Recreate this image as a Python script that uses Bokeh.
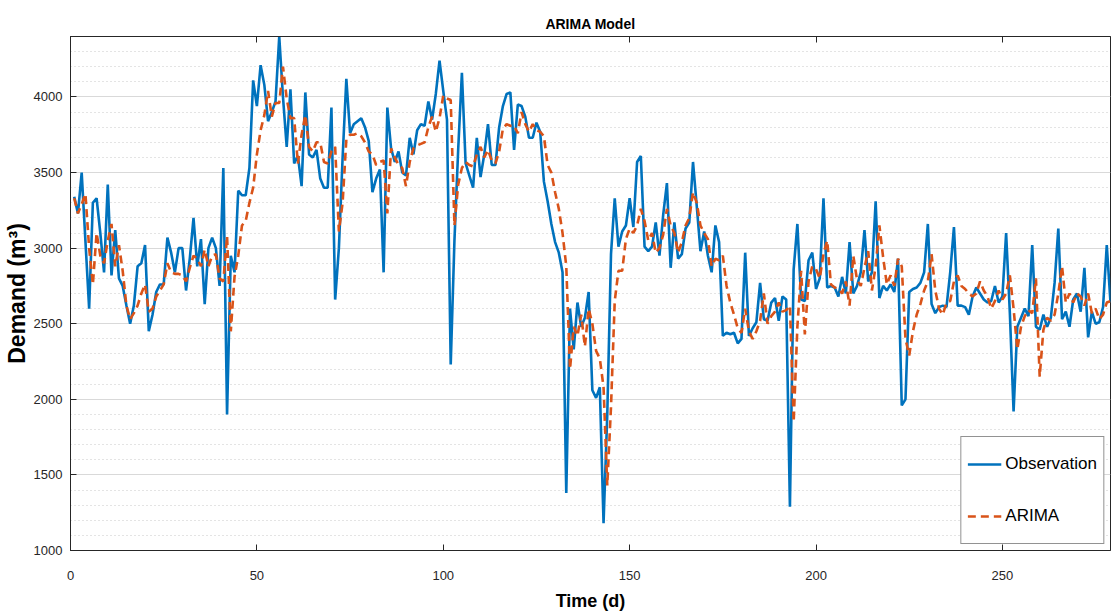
from bokeh.plotting import figure
from bokeh.models import Range1d, LinearAxis, SingleIntervalTicker, Legend, LegendItem, ColumnDataSource
from bokeh.embed import file_html
from bokeh.resources import INLINE

FONT = "Liberation Sans"

days = list(range(1, 280))

observation = [
    3340, 3230, 3500, 3050, 2600, 3300, 3330, 3100, 2840, 3420,
    2820, 3120, 2800, 2750, 2620, 2500, 2620, 2880, 2900, 3020,
    2450, 2560, 2710, 2760, 2760, 3070, 2970, 2840, 3000, 3000,
    2720, 2930, 3200, 2880, 3060, 2630, 3000, 3070, 3000, 2750,
    3530, 1900, 2950, 2840, 3380, 3350, 3350, 3530, 4110, 3940,
    4210, 4080, 3840, 3900, 3970, 4400, 4000, 3670, 4050, 3560,
    3610, 3410, 4030, 3620, 3600, 3650, 3460, 3400, 3400, 3930,
    2660, 3000, 3600, 4120, 3760, 3820, 3840, 3860, 3800, 3710,
    3370, 3460, 3520, 2840, 3930, 3660, 3570, 3640, 3500, 3480,
    3730, 3620, 3780, 3820, 3810, 3970, 3850, 4020, 4240, 4040,
    3850, 2230, 3050, 3650, 4160, 3560, 3480, 3400, 3730, 3470,
    3620, 3820, 3550, 3550, 3800, 3940, 4020, 4030, 3650, 3950,
    3940, 3870, 3730, 3730, 3830, 3770, 3440, 3310, 3160, 3040,
    2970, 2840, 1380, 2600, 2330, 2640, 2480, 2540, 2710, 2060,
    2010, 2080, 1180, 1900, 2960, 3330, 3010, 3110, 3150, 3330,
    3140, 3570, 3610, 3010, 2980, 3010, 3170, 2950, 3220, 3430,
    2870, 3170, 2930, 2960, 3130, 3170, 3570, 3280, 2980, 3110,
    2950, 2840, 3150, 3040, 2420, 2440, 2430, 2440, 2370, 2400,
    2970, 2420, 2470, 2510, 2770, 2530, 2520, 2640, 2670, 2520,
    2680, 2660, 1290, 2860, 3160, 2660, 2650, 2920, 2970, 2730,
    2800, 3330, 2740, 2750, 2740, 2680, 2810, 2700, 3040, 2700,
    2750, 2840, 3120, 2780, 2840, 3310, 2670, 2750, 2720, 2760,
    2710, 2930, 1960, 2000, 2710, 2730, 2740, 2770, 2840, 3160,
    2630, 2570, 2610, 2620, 2610, 2840, 3140, 2620, 2620, 2610,
    2560, 2680, 2740, 2700, 2660, 2640, 2650, 2750, 2640, 2680,
    3100, 2570, 1920, 2480, 2540, 2600, 2550, 3020, 2480, 2460,
    2560, 2480, 2540, 2770, 3130, 2530, 2580, 2480, 2660, 2700,
    2580, 2870, 2410, 2580, 2500, 2510, 2610, 3020, 2640,
]

arima = [
    3330, 3230, 3290, 3360, 3000, 2760, 3100, 2950, 2900, 3050,
    3160, 2880, 3020, 2850, 2620, 2530, 2570, 2620, 2700, 2760,
    2580, 2600, 2680, 2720, 2760, 2900, 2840, 2830, 2830, 2820,
    2780, 2870, 2950, 2930, 2880, 2990, 2880, 2950, 2960, 2800,
    2780, 3080, 2450, 2810, 2950, 3150, 3180, 3300, 3400, 3620,
    3780, 3880, 4040, 3870, 3960, 3960, 4200, 3990, 3860, 3860,
    3560, 3750, 3880, 3670, 3640, 3700, 3700, 3570, 3560, 3640,
    3670, 3110, 3300, 3720, 3750, 3750, 3760, 3740, 3700, 3640,
    3620, 3550, 3570, 3580, 3230, 3660, 3600, 3550, 3530, 3410,
    3570, 3660, 3680, 3690, 3700, 3800, 3870, 3770, 3860, 4010,
    3990, 3980, 3150, 3420, 3530, 3570, 3550, 3540, 3620, 3670,
    3600, 3650, 3580, 3560, 3640, 3790, 3820, 3810, 3810, 3760,
    3900, 3820, 3770, 3820, 3780, 3770, 3740, 3550, 3500, 3370,
    3260, 3100, 2880, 2200, 2480, 2420, 2560, 2350, 2600, 2500,
    2320, 2270, 2080, 1430, 1950, 2650, 2850, 2850, 3060, 3130,
    3100, 3150, 3260, 3180, 3050, 3100, 2970, 3000, 3090, 3260,
    3150, 3100, 2970, 3040, 3150, 3200, 3370, 3300, 3150, 3100,
    3060, 2880, 2930, 2920, 2950, 2750, 2640, 2560, 2470, 2440,
    2600, 2450, 2400, 2450, 2520, 2700, 2500, 2550, 2580, 2640,
    2580, 2590, 2620, 1850, 2480, 2850, 2430, 2780, 2880, 2860,
    2800, 2960, 3050, 2760, 2740, 2730, 2700, 2780, 2620, 2950,
    2790, 2750, 2870, 2980, 2720, 2880, 3150, 2940, 2760, 2820,
    2750, 2930, 2880, 2400, 2290, 2450, 2560, 2630, 2720, 2780,
    2960, 2720, 2600, 2560, 2640, 2650, 2780, 2820, 2750, 2730,
    2700, 2680, 2700, 2780, 2720, 2680, 2600, 2650, 2720, 2660,
    2700, 2820, 2600, 2330, 2480, 2550, 2590, 2570, 2800, 2150,
    2460, 2540, 2520, 2560, 2700, 2880, 2640, 2700, 2640, 2700,
    2680, 2620, 2700, 2570, 2600, 2530, 2560, 2640, 2650,
]

x_ticks_interval = 50
y_ticks_interval = 500

src = ColumnDataSource(data=dict(day=days, obs=observation, arima=arima))

p = figure(width=1111, height=616, output_backend="svg", toolbar_location=None,
           x_range=Range1d(0, 279), y_range=Range1d(1000, 4400),
           min_border_left=68, min_border_right=1, min_border_top=36, min_border_bottom=66)

p.background_fill_color = "white"
p.border_fill_color = "white"
p.outline_line_color = "#262626"
p.outline_line_width = 1

p.title.text = "ARIMA Model"
p.title.align = "center"
p.title.text_font = FONT
p.title.text_font_size = "14px"
p.title.text_font_style = "bold"
p.title.text_color = "#000000"
p.title.standoff = 10

# axes
p.xaxis.ticker = SingleIntervalTicker(interval=x_ticks_interval, num_minor_ticks=0)
p.yaxis.ticker = SingleIntervalTicker(interval=y_ticks_interval, num_minor_ticks=5)
for ax in (p.xaxis[0], p.yaxis[0]):
    ax.major_tick_in = 6
    ax.major_tick_out = 0
    ax.minor_tick_in = 0
    ax.minor_tick_out = 0
    ax.axis_line_color = "#262626"
    ax.major_tick_line_color = "#262626"
    ax.major_label_text_font = FONT
    ax.major_label_text_font_size = "13px"
    ax.major_label_text_color = "#262626"
    ax.axis_label_text_font = FONT
    ax.axis_label_text_font_style = "bold"
    ax.axis_label_text_color = "#000000"

p.xaxis.axis_label = "Time (d)"
p.xaxis.axis_label_text_font_size = "18px"
p.xaxis.major_label_standoff = 20
p.xaxis.axis_label_standoff = 8

p.yaxis.axis_label = "Demand (m\u00b3)"
p.yaxis.axis_label_text_font_size = "23px"
p.yaxis.major_label_standoff = 8
p.yaxis.axis_label_standoff = 1

# box-style ticks on top (labels hidden)
top = LinearAxis(ticker=SingleIntervalTicker(interval=x_ticks_interval, num_minor_ticks=0),
                 major_label_text_font_size="1px", major_label_text_color=None,
                 major_tick_in=6, major_tick_out=0,
                 minor_tick_in=0, minor_tick_out=0, axis_line_color="#262626",
                 major_tick_line_color="#262626", major_label_standoff=0)
p.add_layout(top, "above")

# grid
p.xgrid.visible = False
p.ygrid.grid_line_color = "#d9d9d9"
p.ygrid.grid_line_width = 1
p.ygrid.minor_grid_line_color = "#c8c8c8"
p.ygrid.minor_grid_line_dash = "1 3"
p.ygrid.minor_grid_line_width = 1

r_obs = p.line("day", "obs", source=src, line_color="#0072BD", line_width=2.6)
r_ar = p.line("day", "arima", source=src, line_color="#D95319", line_width=2.6,
              line_dash="8 5")

legend = Legend(items=[LegendItem(label="Observation", renderers=[r_obs]),
                       LegendItem(label="ARIMA", renderers=[r_ar])],
                location="bottom_right")
legend.label_text_font = FONT
legend.label_text_font_size = "17px"
legend.label_text_color = "#000000"
legend.glyph_width = 34
legend.glyph_height = 42
legend.spacing = 10
legend.padding = 6
legend.label_standoff = 4
legend.margin = 6
legend.border_line_color = "#262626"
legend.border_line_width = 1
legend.background_fill_color = "white"
legend.background_fill_alpha = 1.0
p.add_layout(legend, "center")

open("out.html", "w").write(file_html(p, INLINE))
